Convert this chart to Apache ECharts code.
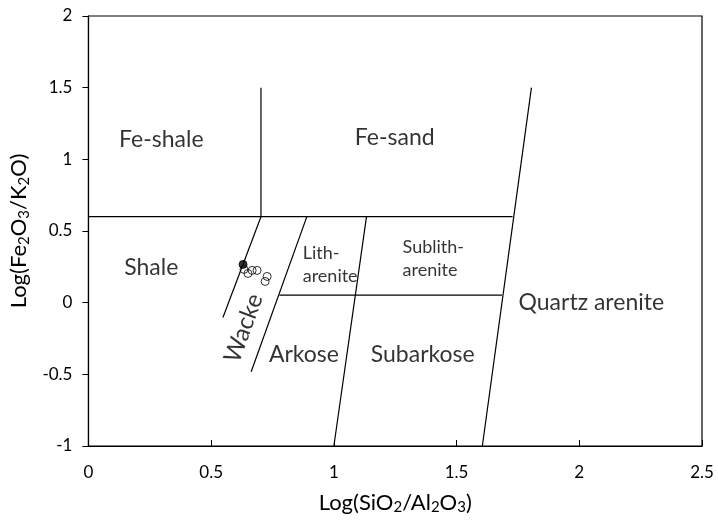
<!DOCTYPE html>
<html>
<head>
<meta charset="utf-8">
<script src="https://cdn.jsdelivr.net/npm/echarts@6/dist/echarts.min.js"></script>
<style>html,body{margin:0;padding:0;background:#fff}#c{width:718px;height:520px}</style>
</head>
<body>
<div id="c"></div>
<script>
// ---- data ----
const xTicks = [0, 0.5, 1, 1.5, 2, 2.5];
const yTicks = [-1, -0.5, 0, 0.5, 1, 1.5, 2];

// classification boundary lines (x, y pairs)
const lineUpperX = [0, 1.728];          const lineUpperY = [0.6, 0.6];
const lineFeX = [0.703, 0.703];         const lineFeY = [0.6, 1.5];
const lineQuartzX = [1.605, 1.805];     const lineQuartzY = [-1, 1.5];
const lineArkoseX = [1.0, 1.133];       const lineArkoseY = [-1, 0.6];
const lineWackeRX = [0.663, 0.89];      const lineWackeRY = [-0.482, 0.6];
const lineWackeLX = [0.548, 0.703];     const lineWackeLY = [-0.104, 0.6];
const lineLowerX = [0.778, 1.685];      const lineLowerY = [0.053, 0.053];

// samples
const filledX = [0.630];
const filledY = [0.267];
const openX = [0.634, 0.650, 0.667, 0.687, 0.728, 0.720];
const openY = [0.232, 0.204, 0.225, 0.225, 0.183, 0.148];

// field names
const fieldNames = ['Fe-shale', 'Fe-sand', 'Shale', 'Quartz arenite', 'Arkose', 'Subarkose'];
const fieldX = [0.297, 1.248, 0.256, 2.049, 0.878, 1.362];
const fieldY = [1.137, 1.151, 0.246, 0.0, -0.360, -0.360];
const smallNames = ['Lith-\narenite', 'Sublith-\narenite'];
const smallX = [0.873, 1.280];
const smallY = [0.267, 0.305];
const wackeName = ['Wacke'];
const wackeX = [0.632];
const wackeY = [-0.178];

// ---- chart ----
const FONT = 'Lato';
const zip = (xs, ys) => xs.map((x, i) => [x, ys[i]]);
const lines = [
  [lineUpperX, lineUpperY], [lineFeX, lineFeY], [lineQuartzX, lineQuartzY],
  [lineArkoseX, lineArkoseY], [lineWackeRX, lineWackeRY], [lineWackeLX, lineWackeLY],
  [lineLowerX, lineLowerY]
];
const series = lines.map(([xs, ys]) => ({
  type: 'line', data: zip(xs, ys), symbol: 'none', silent: true,
  lineStyle: { color: '#000', width: 1.2 }
}));
series.push({
  type: 'scatter', data: zip(openX, openY), symbol: 'circle', symbolSize: 8,
  itemStyle: { color: 'rgba(0,0,0,0)', borderColor: '#000', borderWidth: 1 }
});
series.push({
  type: 'scatter', data: zip(filledX, filledY), symbol: 'circle', symbolSize: 8,
  itemStyle: { color: '#000', borderColor: '#000', borderWidth: 1 }
});
series.push({
  type: 'scatter', symbolSize: 0, silent: true,
  data: fieldNames.map((n, i) => ({ name: n, value: [fieldX[i], fieldY[i]] })),
  label: { show: true, position: 'inside', formatter: '{b}', color: '#000',
    fontFamily: FONT, fontSize: 23 }
});
series.push({
  type: 'scatter', symbolSize: 0, silent: true,
  data: smallNames.map((n, i) => ({ name: n, value: [smallX[i], smallY[i]] })),
  label: { show: true, position: 'inside', formatter: '{b}', color: '#000',
    fontFamily: FONT, fontSize: 18, align: 'left', verticalAlign: 'middle', lineHeight: 23 }
});
series.push({
  type: 'scatter', symbolSize: 0, silent: true,
  data: wackeName.map((n, i) => ({ name: n, value: [wackeX[i], wackeY[i]] })),
  label: { show: true, position: 'inside', formatter: '{b}', color: '#000',
    fontFamily: FONT, fontSize: 24, rotate: 70 }
});

const richTitle = {
  a: { fontFamily: FONT, fontSize: 22, color: '#000' },
  s: { fontFamily: FONT, fontSize: 15, color: '#000', padding: [10, 0, 0, 0] }
};

const chart = echarts.init(document.getElementById('c'), null, { renderer: 'canvas' });
chart.setOption({
  animation: false,
  backgroundColor: '#fff',
  grid: { left: 87, right: 16, top: 16, bottom: 73, show: true, borderColor: '#000', borderWidth: 1.2 },
  xAxis: {
    type: 'value', min: xTicks[0], max: xTicks[xTicks.length - 1], interval: 0.5,
    axisLine: { show: true, onZero: false, lineStyle: { color: '#000', width: 1.2 } },
    axisTick: { show: true, inside: true, length: 6, lineStyle: { color: '#000' } },
    splitLine: { show: false },
    axisLabel: { color: '#000', fontFamily: FONT, fontSize: 17, margin: 18 },
    name: '{a|Log(SiO}{s|2}{a|/Al}{s|2}{a|O}{s|3}{a|)}',
    nameLocation: 'middle', nameGap: 44,
    nameTextStyle: { rich: richTitle }
  },
  yAxis: {
    type: 'value', min: yTicks[0], max: yTicks[yTicks.length - 1], interval: 0.5,
    axisLine: { show: true, onZero: false, lineStyle: { color: '#000', width: 1.2 } },
    axisTick: { show: true, inside: false, length: 6, lineStyle: { color: '#000' } },
    splitLine: { show: false },
    axisLabel: { color: '#000', fontFamily: FONT, fontSize: 17, margin: 16 },
    name: '{a|Log(Fe}{s|2}{a|O}{s|3}{a|/K}{s|2}{a|O)}',
    nameLocation: 'middle', nameGap: 52, nameRotate: 90,
    nameTextStyle: { rich: richTitle }
  },
  series: series
});
</script>
</body>
</html>
